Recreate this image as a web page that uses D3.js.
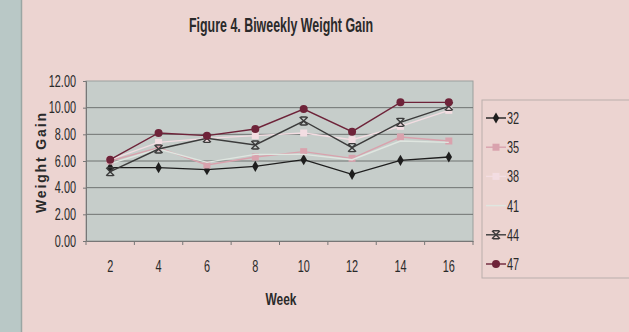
<!DOCTYPE html>
<html>
<head>
<meta charset="utf-8">
<script src="https://cdn.jsdelivr.net/npm/d3@7"></script>
<style>
  body { margin: 0; background: #ecd4d1; }
  svg { display: block; }
  text { font-family: "Liberation Sans", Arial, sans-serif; fill: #2a2a2a; }
</style>
</head>
<body>
<script>
// chart data
const weeks = [2, 4, 6, 8, 10, 12, 14, 16];
const seriesNames = ["32", "35", "38", "41", "44", "47"];
const s32 = [5.5, 5.5, 5.35, 5.6, 6.1, 5.0, 6.05, 6.3];
const s35 = [6.0, 7.0, 5.7, 6.3, 6.7, 6.2, 7.8, 7.5];
const s38 = [6.1, 7.4, 7.7, 7.9, 8.1, 7.6, 8.6, 9.8];
const s41 = [5.8, 6.9, 5.9, 6.5, 6.5, 6.1, 7.5, 7.4];
const s44 = [5.2, 6.9, 7.7, 7.2, 9.0, 7.0, 8.9, 10.1];
const s47 = [6.1, 8.1, 7.9, 8.4, 9.9, 8.2, 10.4, 10.4];
const yTicks = [0, 2, 4, 6, 8, 10, 12];

window.onload = function () {

  const W = 629, H = 332;
  const plot = { left: 86, right: 473, top: 81, bottom: 241 };

  const series = [
    { name: "32", values: s32, color: "#1e1e1e", marker: "diamond" },
    { name: "35", values: s35, color: "#d9a2ad", marker: "square" },
    { name: "38", values: s38, color: "#f3dde2", marker: "square" },
    { name: "41", values: s41, color: "#dfe6e0", marker: "none" },
    { name: "44", values: s44, color: "#3b3b3b", marker: "x" },
    { name: "47", values: s47, color: "#6e2339", marker: "circle" }
  ];

  const svg = d3.select("body").append("svg")
    .attr("width", W)
    .attr("height", H);

  // narrow the font horizontally, like the condensed face of the original
  function squeeze(sel, factor) {
    sel.each(function () {
      const len = this.getComputedTextLength();
      d3.select(this).attr("textLength", len * factor).attr("lengthAdjust", "spacingAndGlyphs");
    });
  }

  // left strip of the slide
  svg.append("rect").attr("x", 0).attr("y", 0).attr("width", 21).attr("height", H).attr("fill", "#b9c8c6");
  svg.append("line").attr("x1", 21.5).attr("x2", 21.5).attr("y1", 0).attr("y2", H)
    .attr("stroke", "#9aa6a4").attr("stroke-width", 1.5);

  const xScale = d3.scaleBand().domain(weeks).range([plot.left, plot.right]);
  const yScale = d3.scaleLinear().domain([0, 12]).range([plot.bottom, plot.top]);

  // plot area
  svg.append("rect")
    .attr("x", plot.left).attr("y", plot.top)
    .attr("width", plot.right - plot.left).attr("height", plot.bottom - plot.top)
    .attr("fill", "#c6cdca")
    .attr("stroke", "#9a9f9d");

  // gridlines
  svg.append("g").selectAll("line").data(yTicks.slice(1, -1)).join("line")
    .attr("x1", plot.left).attr("x2", plot.right)
    .attr("y1", d => yScale(d)).attr("y2", d => yScale(d))
    .attr("stroke", "#6f7371").attr("stroke-width", 1);

  // y axis
  const yAxis = d3.axisLeft(yScale).tickValues(yTicks).tickFormat(d3.format(".2f")).tickSize(3).tickPadding(7);
  const gy = svg.append("g").attr("transform", `translate(${plot.left},0)`).call(yAxis);
  gy.select(".domain").attr("stroke", "#777");
  gy.selectAll(".tick line").attr("stroke", "#777");
  gy.selectAll("text").style("font-size", "16.5px").attr("fill", "#3a3a3a").call(squeeze, 0.66);

  // x axis
  const xAxis = d3.axisBottom(xScale).tickSize(0).tickPadding(19);
  const gx = svg.append("g").attr("transform", `translate(0,${plot.bottom})`).call(xAxis);
  gx.select(".domain").attr("stroke", "#777");
  gx.selectAll("text").style("font-size", "16.5px").attr("fill", "#3a3a3a").call(squeeze, 0.66);
  // tick marks between categories
  const bounds = weeks.map(w => xScale(w)).concat([plot.right]);
  gx.append("g").selectAll("line").data(bounds).join("line")
    .attr("x1", d => d).attr("x2", d => d).attr("y1", 0).attr("y2", 4)
    .attr("stroke", "#777");

  const cx = d => xScale(d) + xScale.bandwidth() / 2;

  function drawMarker(g, type, color) {
    if (type === "diamond") {
      g.append("path").attr("d", d3.symbol(d3.symbolDiamond, 36)()).attr("fill", color);
    } else if (type === "square") {
      g.append("rect").attr("x", -3.5).attr("y", -3.5).attr("width", 7).attr("height", 7).attr("fill", color);
    } else if (type === "circle") {
      g.append("circle").attr("r", 4).attr("fill", color);
    } else if (type === "x") {
      g.append("path").attr("d", "M-4,-4L4,4M-4,4L4,-4M-3,-4H3M-3,4H3")
        .attr("stroke", color).attr("stroke-width", 1.4).attr("fill", "none");
    }
  }

  const line = d3.line().x((d, i) => cx(weeks[i])).y(d => yScale(d));

  const gSeries = svg.append("g");
  series.forEach(s => {
    gSeries.append("path")
      .attr("d", line(s.values))
      .attr("fill", "none")
      .attr("stroke", s.color)
      .attr("stroke-width", 1.4);
    s.values.forEach((v, i) => {
      const m = gSeries.append("g").attr("transform", `translate(${cx(weeks[i])},${yScale(v)})`);
      drawMarker(m, s.marker, s.color);
    });
  });

  // title
  svg.append("text")
    .attr("x", 281).attr("y", 32)
    .attr("text-anchor", "middle")
    .style("font-size", "21px").style("font-weight", "bold")
    .text("Figure 4. Biweekly Weight Gain")
    .attr("textLength", 184).attr("lengthAdjust", "spacingAndGlyphs");

  // axis titles
  svg.append("text")
    .attr("transform", `translate(46,${(plot.top + plot.bottom) / 2 + 2}) rotate(-90)`)
    .attr("text-anchor", "middle")
    .style("font-size", "14px").style("font-weight", "bold")
    .text("Weight Gain")
    .attr("textLength", 100).attr("lengthAdjust", "spacing");

  svg.append("text")
    .attr("x", 281).attr("y", 305)
    .attr("text-anchor", "middle")
    .style("font-size", "17px").style("font-weight", "bold")
    .text("Week")
    .attr("textLength", 31).attr("lengthAdjust", "spacingAndGlyphs");

  // legend
  const legendY = d3.scalePoint().domain(seriesNames).range([118, 264]);
  svg.append("rect")
    .attr("x", 482).attr("y", 100).attr("width", 160).attr("height", 178)
    .attr("fill", "none").attr("stroke", "#b9aeac");

  const lg = svg.append("g").selectAll("g").data(series).join("g")
    .attr("transform", d => `translate(486,${legendY(d.name)})`);
  lg.append("line").attr("x1", 0).attr("x2", 20).attr("y1", 0).attr("y2", 0)
    .attr("stroke", d => d.color).attr("stroke-width", 1.4);
  lg.each(function (d) {
    const m = d3.select(this).append("g").attr("transform", "translate(10,0)");
    drawMarker(m, d.marker, d.color);
  });
  lg.append("text").attr("x", 21).attr("y", 6)
    .style("font-size", "16.5px").attr("fill", "#3a3a3a")
    .text(d => d.name)
    .call(squeeze, 0.66);
}
</script>
</body>
</html>
